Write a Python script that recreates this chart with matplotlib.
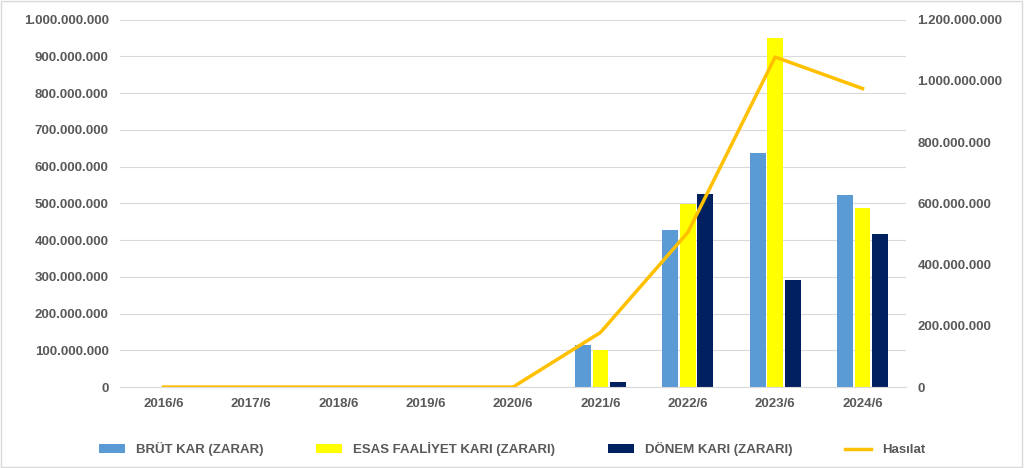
import matplotlib
matplotlib.use("Agg")
import matplotlib.pyplot as plt
import numpy as np
from matplotlib.ticker import FuncFormatter

plt.rcParams['font.family'] = ['Liberation Sans', 'DejaVu Sans']

years = ["2016/6","2017/6","2018/6","2019/6","2020/6","2021/6","2022/6","2023/6","2024/6"]
brut = [0,0,0,0,0,115e6,428e6,638e6,523e6]
esas = [0,0,0,0,0,100e6,497e6,950e6,487e6]
donem = [0,0,0,0,0,15e6,525e6,290e6,417e6]
hasilat = [0,0,0,0,0,178e6,505e6,1078e6,975e6]

fmt = FuncFormatter(lambda v, p: f"{int(v):,}".replace(",", "."))
fig = plt.figure(figsize=(10.24,4.68), dpi=100)
ax = fig.add_axes([0.117,0.173,0.768,0.785])
x = np.arange(len(years))
w = 0.2
ax.bar(x-w, brut, w*0.9, color="#5B9BD5", label="BRÜT KAR (ZARAR)", zorder=2)
ax.bar(x, esas, w*0.9, color="#FFFF00", label="ESAS FAALİYET KARI (ZARARI)", zorder=2)
ax.bar(x+w, donem, w*0.9, color="#002060", label="DÖNEM KARI (ZARARI)", zorder=2)
ax.set_ylim(0,1e9)
ax.set_yticks(np.arange(0,1.0001e9,1e8))
ax.yaxis.set_major_formatter(fmt)
ax.grid(axis="y", color="#D9D9D9", zorder=0)
ax.set_xlim(-0.5,8.5)
ax.set_xticks(x); ax.set_xticklabels(years)
ax2 = ax.twinx()
ax2.plot(x, hasilat, color="#FFC000", lw=2.5, label="Hasılat")
ax2.set_ylim(0,1.2e9)
ax2.set_yticks(np.arange(0,1.2001e9,2e8))
ax2.yaxis.set_major_formatter(fmt)
for a in (ax, ax2):
    for s in a.spines.values(): s.set_visible(False)
    a.tick_params(length=0, labelsize=9.5, colors="#595959", pad=8)
    for t in a.get_yticklabels()+a.get_xticklabels(): t.set_fontweight("bold")
ax.spines["bottom"].set_visible(True); ax.spines["bottom"].set_color("#D9D9D9")
h1,l1 = ax.get_legend_handles_labels(); h2,l2 = ax2.get_legend_handles_labels()
leg = fig.legend(h1+h2, l1+l2, loc="lower center", ncol=4, frameon=False, bbox_to_anchor=(0.5,0.0),
           prop={"weight":"bold","size":9.5}, columnspacing=4)
for t in leg.get_texts(): t.set_color("#595959")
fig.patches.append(plt.Rectangle((0.001,0.002),0.997,0.995, transform=fig.transFigure, fill=False, edgecolor="#D9D9D9"))
fig.savefig("out.png", dpi=100)
